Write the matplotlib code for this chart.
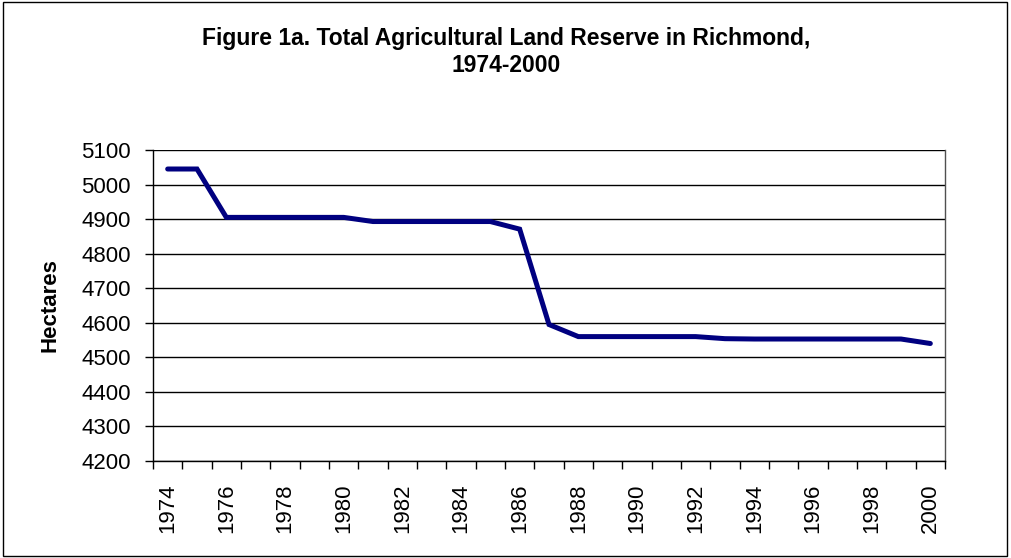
import matplotlib.pyplot as plt
import matplotlib.patches as patches
import numpy as np

plt.rcParams['font.family'] = ['Liberation Sans', 'DejaVu Sans']

# Data
years = list(range(1974, 2001))
hectares = [5045, 5045, 4905, 4905, 4905, 4905, 4905, 4893, 4893, 4893,
            4893, 4893, 4871, 4595, 4560, 4560, 4560, 4560, 4560, 4554,
            4553, 4553, 4553, 4553, 4553, 4553, 4540]
year_labels = [str(y) if (y - 1974) % 2 == 0 else '' for y in years]
y_ticks = list(range(4200, 5101, 100))

LINE_COLOR = '#000080'

fig = plt.figure(figsize=(10.12, 5.58), dpi=100)
ax = fig.add_axes([153 / 1012, 1 - 461 / 558, 792 / 1012, 311 / 558])

# Category positions (Excel-style: ticks between categories)
xpos = np.arange(len(years))
ax.plot(xpos, hectares, color=LINE_COLOR, linewidth=3.6, solid_capstyle='round',
        solid_joinstyle='miter')

ax.set_xlim(-0.5, len(years) - 0.5)
ax.set_ylim(4200, 5100)
ax.set_yticks(y_ticks)
ax.set_yticklabels([str(v) for v in y_ticks], fontsize=16)
ax.yaxis.grid(True, color='black', linewidth=1)
ax.set_axisbelow(True)

# ticks on category boundaries, labels at centers
ax.set_xticks(np.arange(len(years) + 1) - 0.5)
ax.set_xticklabels([])
ax.set_xticks(xpos, minor=True)
ax.set_xticklabels(year_labels, minor=True, rotation=90, fontsize=16)
ax.tick_params(axis='x', which='minor', length=0, pad=16)
ax.tick_params(axis='x', which='major', length=6, direction='out', width=1)
ax.tick_params(axis='y', length=6, direction='out', width=1, pad=10)

for s in ax.spines.values():
    s.set_color('black')
    s.set_linewidth(1)
ax.spines['top'].set_visible(False)
ax.spines['right'].set_color('#505050')

ax.set_ylabel('Hectares', fontsize=16, fontweight='bold', labelpad=15)

fig.text(0.5, 1 - 38 / 558, 'Figure 1a. Total Agricultural Land Reserve in Richmond,',
         ha='center', va='center', fontsize=16.5, fontweight='bold')
fig.text(0.5, 1 - 65 / 558, '1974-2000', ha='center', va='center',
         fontsize=16.5, fontweight='bold')

# outer chart border
fig.patches.append(patches.Rectangle((3 / 1012, 2 / 558), 1004 / 1012, 554 / 558,
                                     transform=fig.transFigure, fill=False,
                                     edgecolor='black', linewidth=1))

fig.savefig('out.png', dpi=100)
